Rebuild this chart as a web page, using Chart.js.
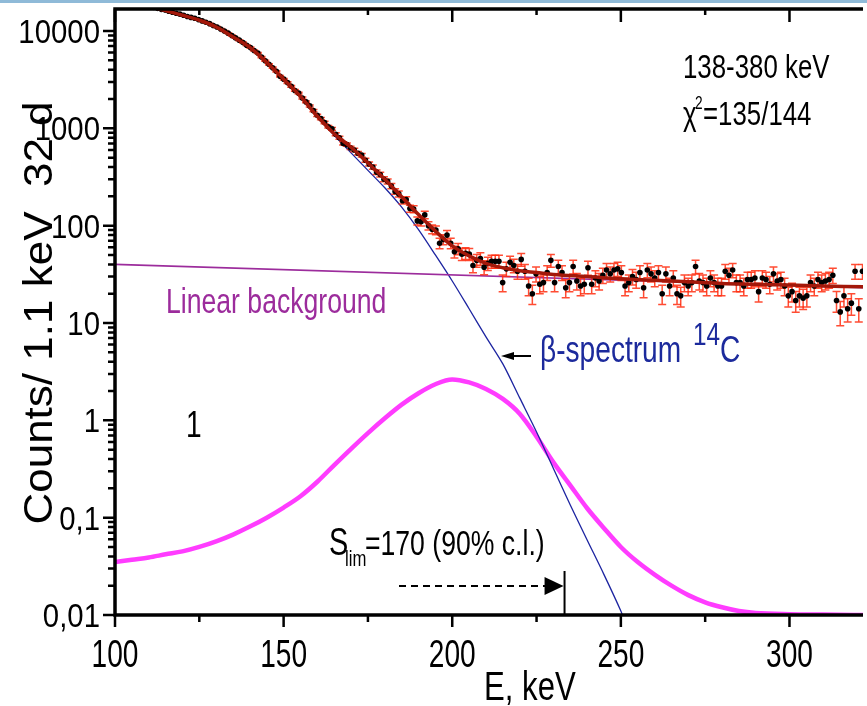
<!DOCTYPE html>
<html>
<head>
<meta charset="utf-8">
<script src="https://cdn.jsdelivr.net/npm/chart.js@4.4.1/dist/chart.umd.min.js"></script>
<style>
  html, body { margin: 0; padding: 0; background: #fff; }
</style>
</head>
<body>
<canvas id="chart" width="867" height="706"></canvas>
<script>
// measured spectrum, 1.1 keV bins starting at 100 keV
const binStart = 100.55;
const binWidth = 1.1;
const counts = [
  20800, 20500, 20200, 19900, 19600, 19300, 18900, 18600, 18200, 17800, 17500, 17100,
  16700, 16400, 16000, 15600, 15200, 14900, 14500, 14100, 13800, 13500, 13100, 12700,
  12300, 11900, 11400, 11000, 10500, 10000, 9500, 9000, 8500, 8050, 7600, 7150,
  6750, 6300, 5950, 5400, 4950, 4550, 4200, 3850, 3430, 3200, 2950, 2700,
  2450, 2300, 2050, 1870, 1700, 1520, 1360,
  1260, 1150, 1040, 990, 870, 800, 700, 680, 630,
  600, 555, 530, 470, 430, 400, 355, 335, 300, 285, 255, 225, 212, 180, 185, 150,
  148, 112, 110, 129, 100, 92, 90, 66, 72, 80, 66, 54, 58, 51, 52, 51, 39, 44,
  46, 37.5, 41, 43, 43, 43, 26, 36, 42, 39, 34, 45, 34, 24, 20, 32, 25, 26,
  33, 44, 26, 38, 33, 23, 26, 38, 27, 24, 25, 37, 25, 29, 27, 31, 35, 32,
  35, 36, 33, 24, 26, 30, 28, 33, 23, 35, 32, 29, 33, 20, 32, 24, 29, 20,
  19, 26, 24, 26, 38, 27, 26, 24, 29, 26, 24, 24, 34, 31, 35, 26, 26, 24,
  28, 28, 29, 21, 29, 28, 25, 32, 27, 28, 24, 19, 21, 17, 19, 18, 19, 26,
  24, 28, 26, 27, 28, 31, 17, 13, 19, 14, 16, 34, 14, 34
];

// total fit (beta + background)
const fitE = [100, 105, 110, 115, 120, 125, 130, 135, 140, 145, 150, 155, 160, 165, 170, 175, 180, 185,
  190, 195, 200, 205, 210, 215, 220, 225, 230, 240, 250, 260, 270, 280, 290, 300, 310, 322];
const fitY = [21000, 19600, 17900, 16200, 14500, 12900, 11000, 8700, 6800, 4750, 3200, 2130, 1330, 880, 640, 440, 300, 198,
  130, 88, 62, 49, 41, 37, 34.5, 33, 31.5, 30, 28.5, 27.5, 26.5, 25.5, 25, 24.5, 24, 23.5];

// 14C beta spectrum
const betaE = [100, 105, 110, 115, 120, 125, 130, 135, 140, 145, 150, 155, 160, 165, 170, 175, 180, 185,
  190, 195, 200, 205, 210, 215, 220, 225, 230, 235, 240, 245, 250, 251];
const betaY = [20900, 19500, 17800, 16200, 14500, 12900, 11000, 8700, 6760, 4680, 3160, 2090, 1320, 850, 560, 370, 245, 155,
  91, 50, 27, 14, 7.2, 3.8, 1.7, 0.76, 0.32, 0.135, 0.059, 0.026, 0.011, 0.0088];

// linear background
const bgE = [100, 322];
const bgY = [40, 23];

// expected signal shape at S_lim
const sigE = [100, 105, 110, 115, 120, 125, 130, 135, 140, 145, 150, 155, 160, 165, 170, 175, 180, 185,
  190, 195, 200, 205, 210, 215, 220, 225, 230, 235, 240, 245, 250, 255, 260, 265, 270, 275, 280, 285,
  290, 300, 310, 322];
const sigY = [0.035, 0.037, 0.039, 0.042, 0.045, 0.050, 0.057, 0.067, 0.081, 0.100, 0.127, 0.166, 0.234, 0.347, 0.51, 0.74, 1.05, 1.45,
  1.9, 2.35, 2.63, 2.45, 2.1, 1.66, 1.17, 0.68, 0.37, 0.215, 0.125, 0.078, 0.05, 0.035, 0.026, 0.02, 0.016, 0.0135, 0.012, 0.011,
  0.0105, 0.0102, 0.0101, 0.0100];

const limitE = 233.3;

const xTickValues = [100, 150, 200, 250, 300];
const xMinorTicks = [125, 175, 225, 275, 325];
const yTickValues = [0.01, 0.1, 1, 10, 100, 1000, 10000];
const yTickLabels = ['0,01', '0,1', '1', '10', '100', '1000', '10000'];

const textFont = '"Liberation Sans", Arial, sans-serif';

function xy(xs, ys) { return xs.map((x, i) => ({ x: x, y: ys[i] })); }

const points = counts.map((c, i) => ({ x: binStart + binWidth * i, y: c }));

// squeezed text, the original figure is narrow
function txt(ctx, s, x, y, size, color, sx, align) {
  ctx.save();
  ctx.translate(x, y);
  ctx.scale(sx, 1);
  ctx.font = size + 'px ' + textFont;
  ctx.fillStyle = color;
  ctx.textBaseline = 'alphabetic';
  ctx.textAlign = align || 'left';
  ctx.fillText(s, 0, 0);
  ctx.restore();
}

const errorBars = {
  id: 'errorBars',
  beforeDatasetDraw(chart, args) {
    if (args.index !== 0) return;
    const ctx = chart.ctx, a = chart.chartArea;
    const xs = chart.scales.x, ys = chart.scales.y;
    ctx.save();
    ctx.beginPath();
    ctx.rect(a.left, a.top, a.right - a.left, a.bottom - a.top);
    ctx.clip();
    ctx.strokeStyle = 'rgba(255,45,15,0.85)';
    ctx.lineWidth = 1.5;
    points.forEach(p => {
      const err = Math.sqrt(p.y);
      const px = xs.getPixelForValue(p.x);
      const y1 = ys.getPixelForValue(p.y + err);
      const y2 = ys.getPixelForValue(Math.max(p.y - err, 0.011));
      ctx.beginPath();
      ctx.moveTo(px, y1); ctx.lineTo(px, y2);
      ctx.moveTo(px - 4, y1); ctx.lineTo(px + 4, y1);
      ctx.moveTo(px - 4, y2); ctx.lineTo(px + 4, y2);
      ctx.stroke();
    });
    ctx.restore();
  }
};

const frame = {
  id: 'frame',
  afterDraw(chart) {
    const ctx = chart.ctx, a = chart.chartArea;
    const xs = chart.scales.x, ys = chart.scales.y;
    ctx.save();
    // thin slide strip at the top
    ctx.fillStyle = '#8fbad8';
    ctx.fillRect(0, 0, chart.width, 3);

    ctx.strokeStyle = '#000';
    ctx.lineWidth = 3.5;
    ctx.beginPath();
    ctx.moveTo(a.left, a.top); ctx.lineTo(a.left, a.bottom + 1.75);
    ctx.moveTo(a.left - 1.75, a.bottom); ctx.lineTo(a.right, a.bottom);
    ctx.moveTo(a.left - 1.75, a.top); ctx.lineTo(a.right, a.top);
    ctx.stroke();

    ctx.lineWidth = 2.5;
    ctx.beginPath();
    xTickValues.forEach(v => {
      const px = xs.getPixelForValue(v);
      ctx.moveTo(px, a.bottom); ctx.lineTo(px, a.bottom + 12);
      ctx.moveTo(px, a.top); ctx.lineTo(px, a.top + 13);
    });
    xMinorTicks.forEach(v => {
      const px = xs.getPixelForValue(v);
      if (px > a.right) return;
      ctx.moveTo(px, a.bottom); ctx.lineTo(px, a.bottom + 7);
      ctx.moveTo(px, a.top); ctx.lineTo(px, a.top + 6);
    });
    yTickValues.forEach(v => {
      const py = ys.getPixelForValue(v);
      ctx.moveTo(a.left - 12, py); ctx.lineTo(a.left, py);
      for (let m = 2; m <= 9; m++) {
        const mv = v * m;
        if (mv > ys.max) continue;
        const my = ys.getPixelForValue(mv);
        ctx.moveTo(a.left - 7, my); ctx.lineTo(a.left, my);
      }
    });
    ctx.stroke();

    // tick labels from the scales' ticks
    xs.ticks.forEach(t => {
      const label = t.label != null ? t.label : String(t.value);
      txt(ctx, label, xs.getPixelForValue(t.value), 667, 39, '#000', 0.72, 'center');
    });
    ys.ticks.forEach((t, i) => {
      const label = t.label != null ? t.label : yTickLabels[i];
      txt(ctx, label, a.left - 15, ys.getPixelForValue(t.value) + 12, 33, '#000', 0.89, 'right');
    });

    // axis titles
    txt(ctx, 'E, keV', 484, 700, 41, '#000', 0.76);
    ctx.save();
    ctx.translate(52, 313);
    ctx.rotate(-Math.PI / 2);
    ctx.scale(1, 0.92);
    ctx.font = '44px ' + textFont;
    ctx.fillStyle = '#000';
    ctx.textAlign = 'center';
    ctx.textBaseline = 'alphabetic';
    ctx.fillText('Counts/ 1.1 keV  32 d', 0, 0);
    ctx.restore();

    // annotations
    txt(ctx, '138-380 keV', 683, 78, 34, '#000', 0.76);
    txt(ctx, '\u03C7', 683, 125, 34, '#000', 0.76);
    txt(ctx, '2', 695, 109, 18, '#000', 0.76);
    txt(ctx, '=135/144', 703, 125, 34, '#000', 0.76);
    txt(ctx, 'Linear background', 166, 313, 35, '#9c2c9c', 0.76);
    txt(ctx, '1', 186, 437, 37, '#000', 0.76);
    txt(ctx, '\u03B2-spectrum', 540, 362, 37, '#1c2a9c', 0.76);
    txt(ctx, '14', 693, 345, 32, '#1c2a9c', 0.76);
    txt(ctx, 'C', 720, 362, 37, '#1c2a9c', 0.76);
    txt(ctx, 'S', 329, 555, 38, '#000', 0.76);
    txt(ctx, 'lim', 345, 566, 22, '#000', 0.76);
    txt(ctx, '=170 (90% c.l.)', 365, 555, 35, '#000', 0.76);

    // arrow to the beta curve
    ctx.strokeStyle = '#000';
    ctx.fillStyle = '#000';
    ctx.lineWidth = 2;
    ctx.beginPath();
    ctx.moveTo(531, 356); ctx.lineTo(510, 356);
    ctx.stroke();
    ctx.beginPath();
    ctx.moveTo(501, 356); ctx.lineTo(514, 352); ctx.lineTo(514, 360); ctx.closePath();
    ctx.fill();

    // S_lim marker
    const lx = xs.getPixelForValue(limitE);
    ctx.beginPath();
    ctx.moveTo(lx, 571); ctx.lineTo(lx, a.bottom);
    ctx.stroke();
    ctx.setLineDash([7, 5]);
    ctx.beginPath();
    ctx.moveTo(399, 586); ctx.lineTo(548, 586);
    ctx.stroke();
    ctx.setLineDash([]);
    ctx.beginPath();
    ctx.moveTo(lx - 1, 586); ctx.lineTo(lx - 20, 577); ctx.lineTo(lx - 20, 595); ctx.closePath();
    ctx.fill();
    ctx.restore();
  }
};

new Chart(document.getElementById('chart'), {
  type: 'scatter',
  data: {
    datasets: [
      {
        label: 'data',
        data: points,
        pointRadius: 2.8,
        pointBackgroundColor: '#000',
        pointBorderWidth: 0,
        showLine: false,
        order: 1
      },
      {
        label: 'fit',
        data: xy(fitE, fitY),
        showLine: true,
        borderColor: '#a3180a',
        borderWidth: 3.5,
        pointRadius: 0,
        tension: 0.35,
        order: 0
      },
      {
        label: 'Linear background',
        data: xy(bgE, bgY),
        showLine: true,
        borderColor: '#9c2c9c',
        borderWidth: 1.6,
        pointRadius: 0,
        order: 2
      },
      {
        label: 'beta 14C',
        data: xy(betaE, betaY),
        showLine: true,
        borderColor: '#1c24a0',
        borderWidth: 1.3,
        pointRadius: 0,
        tension: 0.3,
        order: 3
      },
      {
        label: 'signal',
        data: xy(sigE, sigY),
        showLine: true,
        borderColor: '#ff3cff',
        borderWidth: 4.5,
        pointRadius: 0,
        cubicInterpolationMode: 'monotone',
        order: 4
      }
    ]
  },
  options: {
    responsive: false,
    animation: false,
    events: [],
    layout: { padding: { top: 9, right: 0, left: 0, bottom: 0 } },
    plugins: {
      legend: { display: false },
      tooltip: { enabled: false },
      title: { display: false }
    },
    scales: {
      x: {
        type: 'linear',
        min: 100,
        max: 321.8,
        grid: { display: false, drawTicks: false },
        border: { display: false },
        afterBuildTicks: s => { s.ticks = xTickValues.map(v => ({ value: v })); },
        afterFit: s => { s.height = 91; s.paddingLeft = 0; s.paddingRight = 0; },
        ticks: {
          display: false,
          autoSkip: false,
          maxRotation: 0,
          callback: v => String(v)
        }
      },
      y: {
        type: 'logarithmic',
        min: 0.01,
        max: 16830,
        grid: { display: false, drawTicks: false },
        border: { display: false },
        afterBuildTicks: s => { s.ticks = yTickValues.map(v => ({ value: v })); },
        afterFit: s => { s.width = 115; s.paddingTop = 0; s.paddingBottom = 0; },
        ticks: {
          display: false,
          autoSkip: false,
          callback: (v, i) => yTickLabels[i]
        }
      }
    }
  },
  plugins: [errorBars, frame]
});
</script>
</body>
</html>
